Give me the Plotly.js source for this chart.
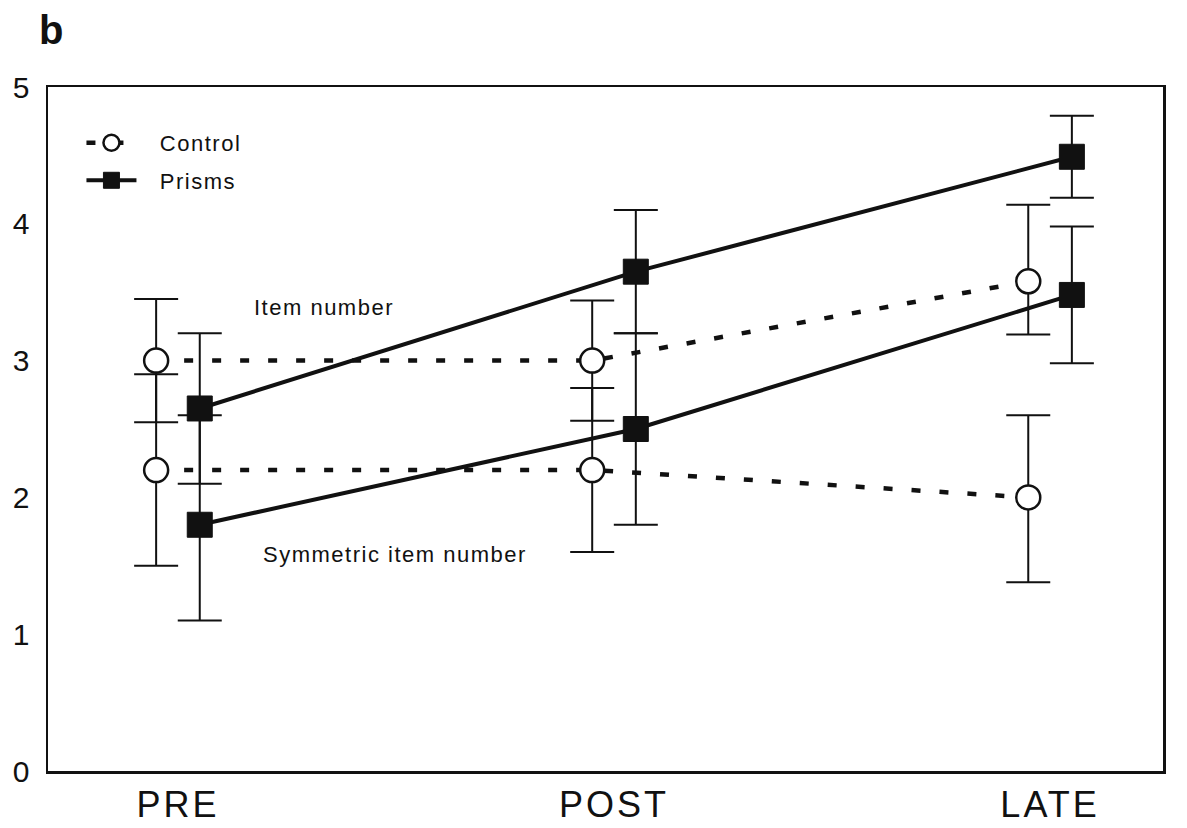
<!DOCTYPE html>
<html>
<head>
<meta charset="utf-8">
<script src="https://cdn.plot.ly/plotly-3.0.1.min.js"></script>
<style>
  html, body { margin: 0; padding: 0; background: #fff; }
  #chart { width: 1187px; height: 828px; }
  .xtick text { letter-spacing: 3px; }
  .annotation-text, .legendtext { letter-spacing: 1.5px; }
</style>
</head>
<body>
<div id="chart"></div>
<script>
// Categories (sessions)
const sessions = ["PRE", "POST", "LATE"];
const groupNames = ["Control", "Prisms"];

// Item number
const controlItem      = [3.0, 3.0, 3.58];
const controlItemErrUp = [0.45, 0.44, 0.56];
const controlItemErrDn = [0.45, 0.44, 0.39];
const prismsItem       = [2.65, 3.65, 4.49];
const prismsItemErrUp  = [0.55, 0.45, 0.30];
const prismsItemErrDn  = [0.55, 0.45, 0.30];

// Symmetric item number
const controlSym       = [2.2, 2.2, 2.0];
const controlSymErrUp  = [0.7, 0.6, 0.6];
const controlSymErrDn  = [0.7, 0.6, 0.62];
const prismsSym        = [1.8, 2.5, 3.48];
const prismsSymErrUp   = [0.8, 0.7, 0.5];
const prismsSymErrDn   = [0.7, 0.7, 0.5];

const yTicks = [0, 1, 2, 3, 4, 5];

// dodge of the two groups around each session
const dodge = 0.05;
const xIdx = sessions.map((_, i) => i);
const xControl = xIdx.map(v => v - dodge);
const xPrisms  = xIdx.map(v => v + dodge);

const errStyle = (up, dn) => ({
  type: 'data', symmetric: false, array: up, arrayminus: dn,
  color: '#111', thickness: 2, width: 22
});

// extra gap between legend symbol and legend text
const legendPad = '\u2002\u2009';

const controlLine = { color: '#111', width: 4.5, dash: '9px,19px' };
const prismsLine  = { color: '#111', width: 4 };
const controlMarker = { symbol: 'circle', size: 24, color: '#fff', line: { color: '#111', width: 2.5 } };
const prismsMarker  = { symbol: 'square', size: 25, color: '#111', line: { color: '#111', width: 1 } };

const traces = [
  { x: xControl, y: controlSym, mode: 'lines+markers', name: groupNames[0], showlegend: false, legendgroup: 'c',
    line: controlLine, marker: controlMarker, error_y: errStyle(controlSymErrUp, controlSymErrDn) },
  { x: xPrisms, y: prismsSym, mode: 'lines+markers', name: groupNames[1], showlegend: false, legendgroup: 'p',
    line: prismsLine, marker: prismsMarker, error_y: errStyle(prismsSymErrUp, prismsSymErrDn) },
  { x: xControl, y: controlItem, mode: 'lines+markers', name: legendPad + groupNames[0], showlegend: true, legendgroup: 'c',
    line: controlLine, marker: controlMarker, error_y: errStyle(controlItemErrUp, controlItemErrDn) },
  { x: xPrisms, y: prismsItem, mode: 'lines+markers', name: legendPad + groupNames[1], showlegend: true, legendgroup: 'p',
    line: prismsLine, marker: prismsMarker, error_y: errStyle(prismsItemErrUp, prismsItemErrDn) }
];

const font = 'Liberation Sans, Arial, Helvetica, sans-serif';

const layout = {
  width: 1187, height: 828,
  margin: { l: 48, r: 24, t: 87, b: 57 },
  paper_bgcolor: '#fff', plot_bgcolor: '#fff',
  font: { family: font, color: '#111' },
  showlegend: true,
  legend: {
    x: 0.03, y: 0.949, xanchor: 'left', yanchor: 'top',
    bgcolor: 'rgba(0,0,0,0)', borderwidth: 0,
    font: { family: font, size: 22, color: '#111' },
    traceorder: 'grouped', tracegroupgap: 6, itemwidth: 50
  },
  xaxis: {
    range: [-0.298, 2.259],
    tickmode: 'array', tickvals: xIdx, ticktext: sessions,
    tickfont: { family: font, size: 36, color: '#111' },
    showgrid: false, zeroline: false,
    showline: true, mirror: true, linecolor: '#111', linewidth: 2.5,
    ticks: '', ticklabelstandoff: 0
  },
  yaxis: {
    range: [0, 5],
    tickmode: 'array', tickvals: yTicks,
    tickfont: { family: font, size: 30, color: '#111' },
    showgrid: false, zeroline: false,
    showline: true, mirror: true, linecolor: '#111', linewidth: 2.5,
    ticks: '', ticklabelstandoff: 10
  },
  annotations: [
    { text: 'b', xref: 'paper', yref: 'paper', x: 0.004, y: 1.083, xanchor: 'center', yanchor: 'middle',
      showarrow: false, font: { family: font, size: 40, color: '#111', weight: 'bold' } },
    { text: 'Item number', xref: 'x', yref: 'y', x: 0.335, y: 3.39, xanchor: 'center', yanchor: 'middle',
      showarrow: false, font: { family: font, size: 22, color: '#111' } },
    { text: 'Symmetric item number', xref: 'x', yref: 'y', x: 0.498, y: 1.58, xanchor: 'center', yanchor: 'middle',
      showarrow: false, font: { family: font, size: 22, color: '#111' } }
  ]
};

Plotly.newPlot('chart', traces, layout, { displayModeBar: false, staticPlot: true });
</script>
</body>
</html>
